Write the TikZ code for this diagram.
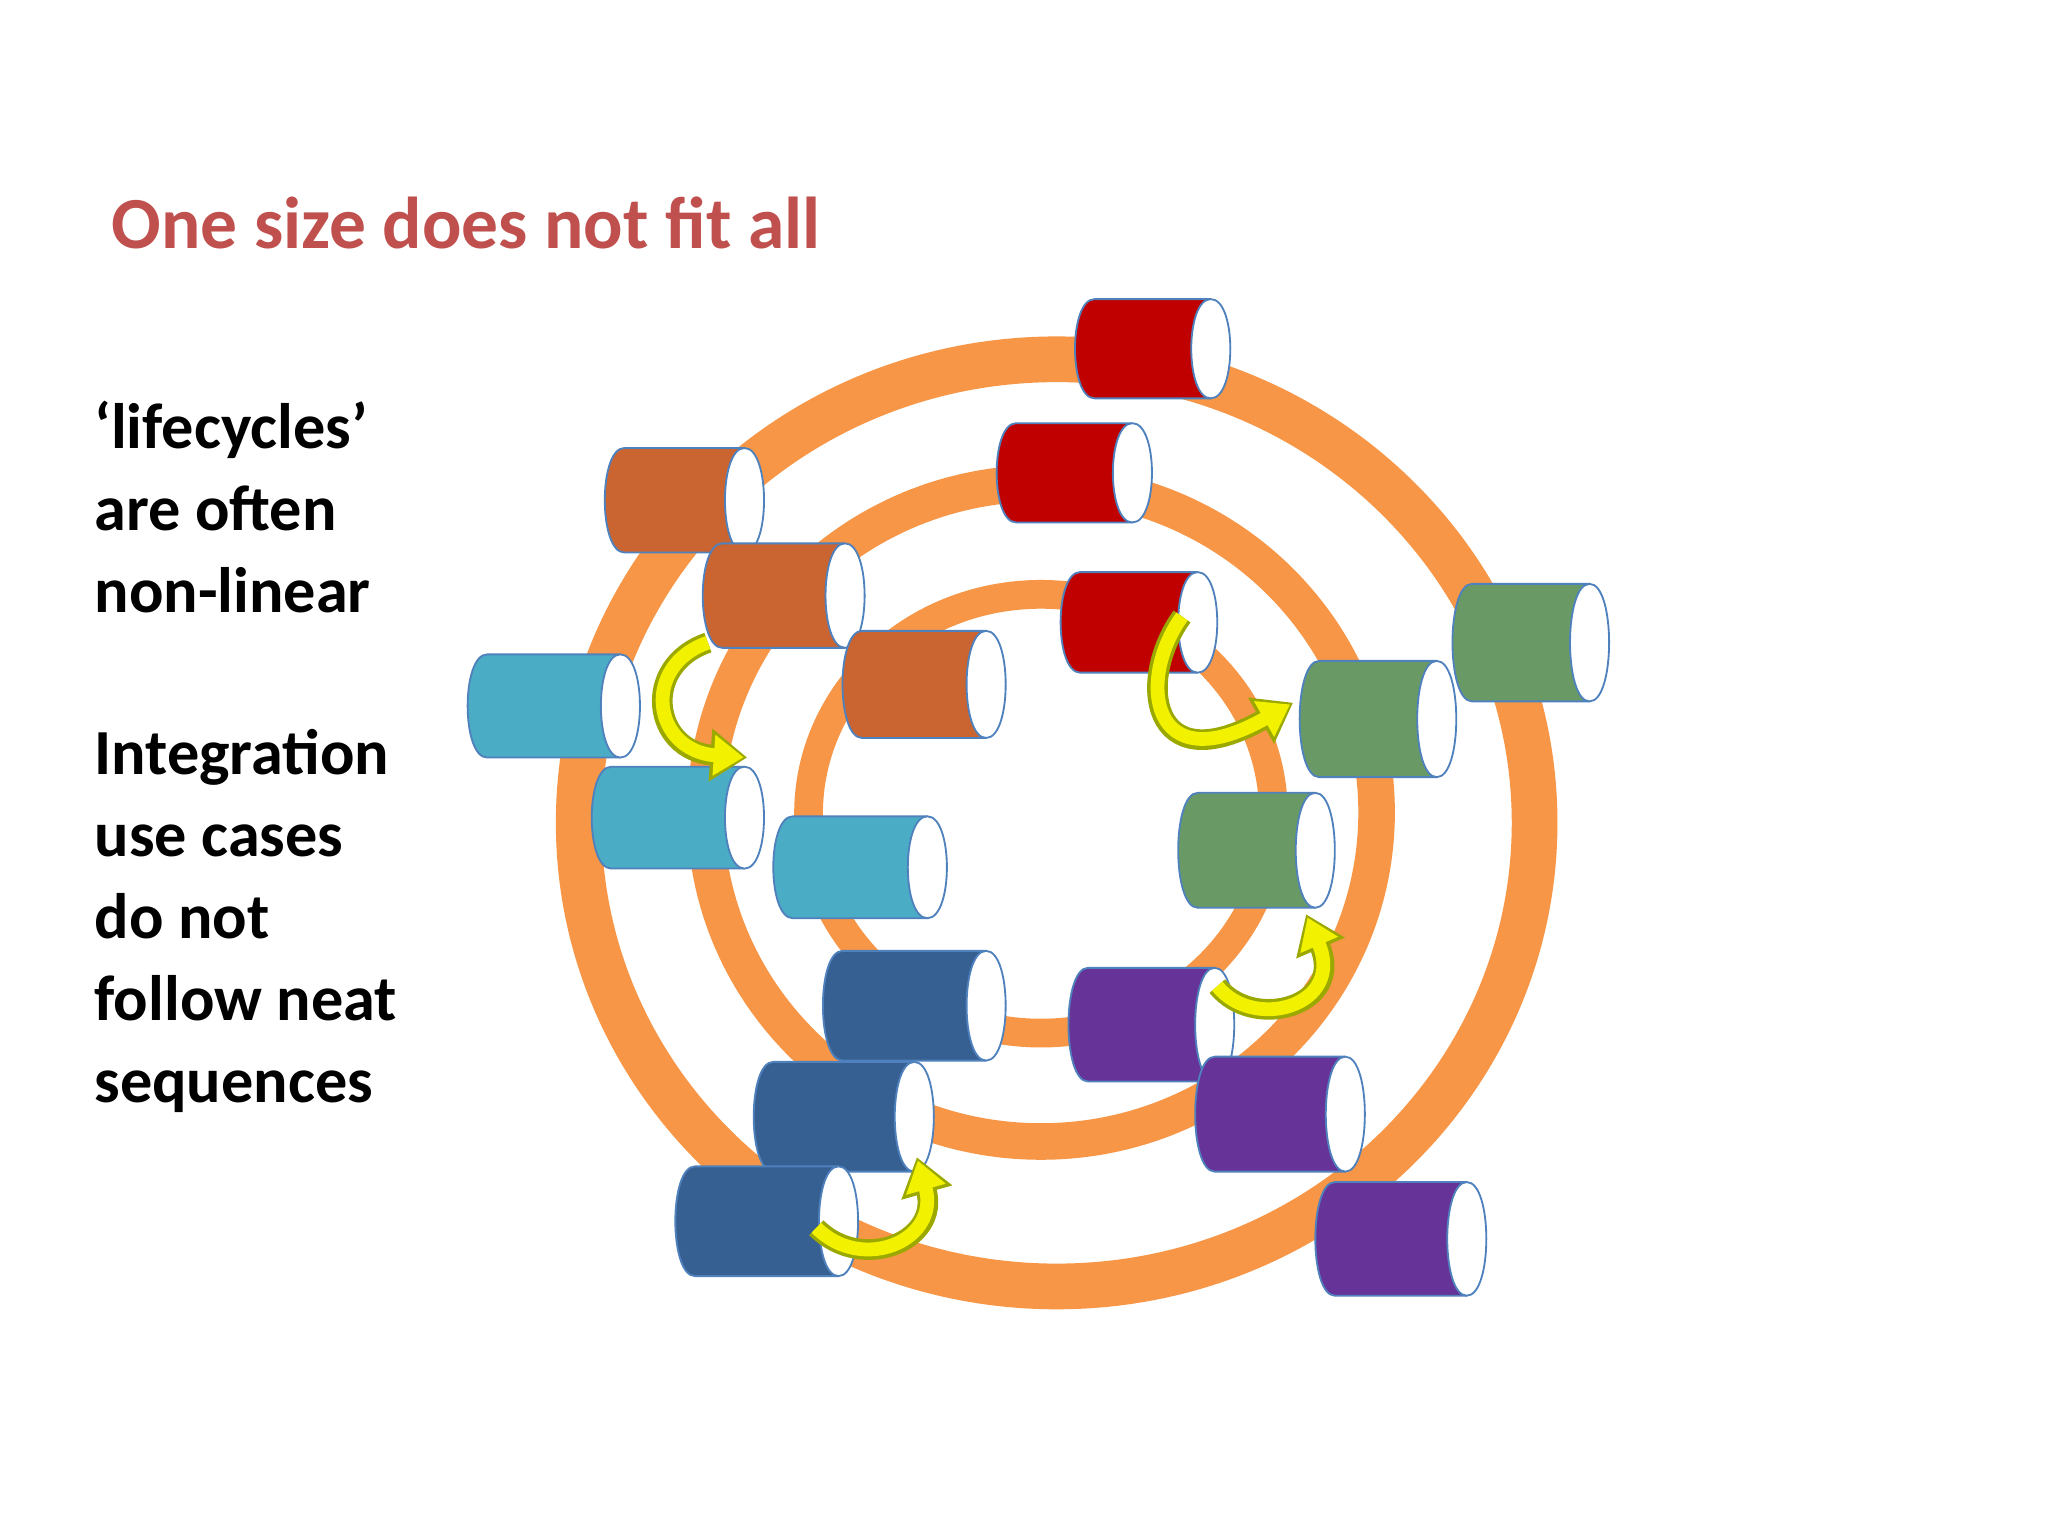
\documentclass[tikz,border=0pt]{standalone}
\usepackage{fontspec}
\setmainfont{Carlito}
\usetikzlibrary{arrows.meta}
\definecolor{ring}{HTML}{F79646}
\definecolor{cred}{HTML}{C00000}
\definecolor{corange}{HTML}{CA6532}
\definecolor{clblue}{HTML}{4BACC6}
\definecolor{cdblue}{HTML}{376092}
\definecolor{cpurple}{HTML}{663399}
\definecolor{cgreen}{HTML}{699A66}
\definecolor{edge}{HTML}{4F81BD}
\definecolor{ttl}{HTML}{C0504D}
\definecolor{yel}{HTML}{F2F200}
\definecolor{yedge}{HTML}{9BA800}
\newcommand\mycan[5]{%
  \pgfmathsetmacro\rx{15}%
  \pgfmathsetmacro\ca{#1+\rx}%
  \pgfmathsetmacro\cb{#3-\rx}%
  \pgfmathsetmacro\ka{\ca-1.33*\rx}%
  \pgfmathsetmacro\kb{\cb-1.33*\rx}%
  \pgfmathsetmacro\kc{\cb+1.33*\rx}%
  \fill[#5] (\ca,#2) -- (\cb,#2) .. controls (\kb,#2) and (\kb,#4) .. (\cb,#4) -- (\ca,#4) .. controls (\ka,#4) and (\ka,#2) .. cycle;
  \draw[edge,line width=0.8pt] (\cb,#2) -- (\ca,#2) .. controls (\ka,#2) and (\ka,#4) .. (\ca,#4) -- (\cb,#4);
  \draw[edge,fill=white,line width=0.8pt] (\cb,#2) .. controls (\kc,#2) and (\kc,#4) .. (\cb,#4) .. controls (\kb,#4) and (\kb,#2) .. cycle;
}
\tikzset{yarrow/.style={line width=9pt,draw=yedge,-{Triangle[length=16pt,width=22pt]}},
         yarrowin/.style={line width=6pt,draw=yel,-{Triangle[length=13pt,width=17pt]},shorten >=1.5pt}}
\begin{document}
\begin{tikzpicture}[x=0.02cm,y=-0.02cm]
\useasboundingbox (0,0) rectangle (1568,1176);
\fill[white] (0,0) rectangle (1568,1176);
\node[anchor=base west,text=ttl,font=\bfseries\fontsize{32}{38}\selectfont,inner sep=0] (title) at (85,190) {One size does not fit all};
\node[anchor=north west,align=left,font=\bfseries\fontsize{28}{35.7}\selectfont,inner sep=0] (t1) at (72,307) {‘lifecycles’\\are often\\non-linear};
\node[anchor=north west,align=left,font=\bfseries\fontsize{28}{35.7}\selectfont,inner sep=0] (t2) at (72,558) {Integration\\use cases\\do not\\follow neat\\sequences};
\draw[ring,line width=0.7cm] (809,630) ellipse [x radius=7.32cm, y radius=7.1cm];
\draw[ring,line width=0.56cm] (797,622) ellipse [x radius=5.14cm, y radius=5.04cm];
\draw[ring,line width=0.44cm] (797,623) ellipse [x radius=3.56cm, y radius=3.36cm];
\mycan{823}{229}{942}{305}{cred}
\mycan{763}{324}{882}{400}{cred}
\mycan{463}{343}{585}{423}{corange}
\mycan{538}{416}{662}{496}{corange}
\mycan{812}{438}{932}{515}{cred}
\mycan{645}{483}{770}{565}{corange}
\mycan{1112}{447}{1232}{537}{cgreen}
\mycan{995}{506}{1115}{595}{cgreen}
\mycan{358}{501}{490}{580}{clblue}
\mycan{453}{587}{585}{665}{clblue}
\mycan{592}{625}{725}{703}{clblue}
\mycan{902}{607}{1022}{695}{cgreen}
\mycan{630}{728}{770}{812}{cdblue}
\mycan{818}{741}{945}{828}{cpurple}
\mycan{915}{809}{1045}{897}{cpurple}
\mycan{577}{813}{715}{897}{cdblue}
\mycan{517}{893}{657}{977}{cdblue}
\mycan{1007}{905}{1138}{992}{cpurple}
\coordinate (a1s) at (542,492); \coordinate (a1e) at (572,580);
\coordinate (a2s) at (905,472); \coordinate (a2e) at (990,538);
\coordinate (a3s) at (932,755); \coordinate (a3e) at (1000,700);
\coordinate (a4s) at (625,940); \coordinate (a4e) at (702,886);
\foreach \s/\e/\ca/\cb in {a1s/a1e/{(490,510)}/{(500,575)}, a2s/a2e/{(870,520)}/{(880,600)}, a3s/a3e/{(960,790)}/{(1030,770)}, a4s/a4e/{(660,975)}/{(720,950)}}{
  \draw[yarrow] (\s) .. controls \ca and \cb .. (\e);
  \draw[yarrowin] (\s) .. controls \ca and \cb .. (\e);
}
\end{tikzpicture}
\end{document}
